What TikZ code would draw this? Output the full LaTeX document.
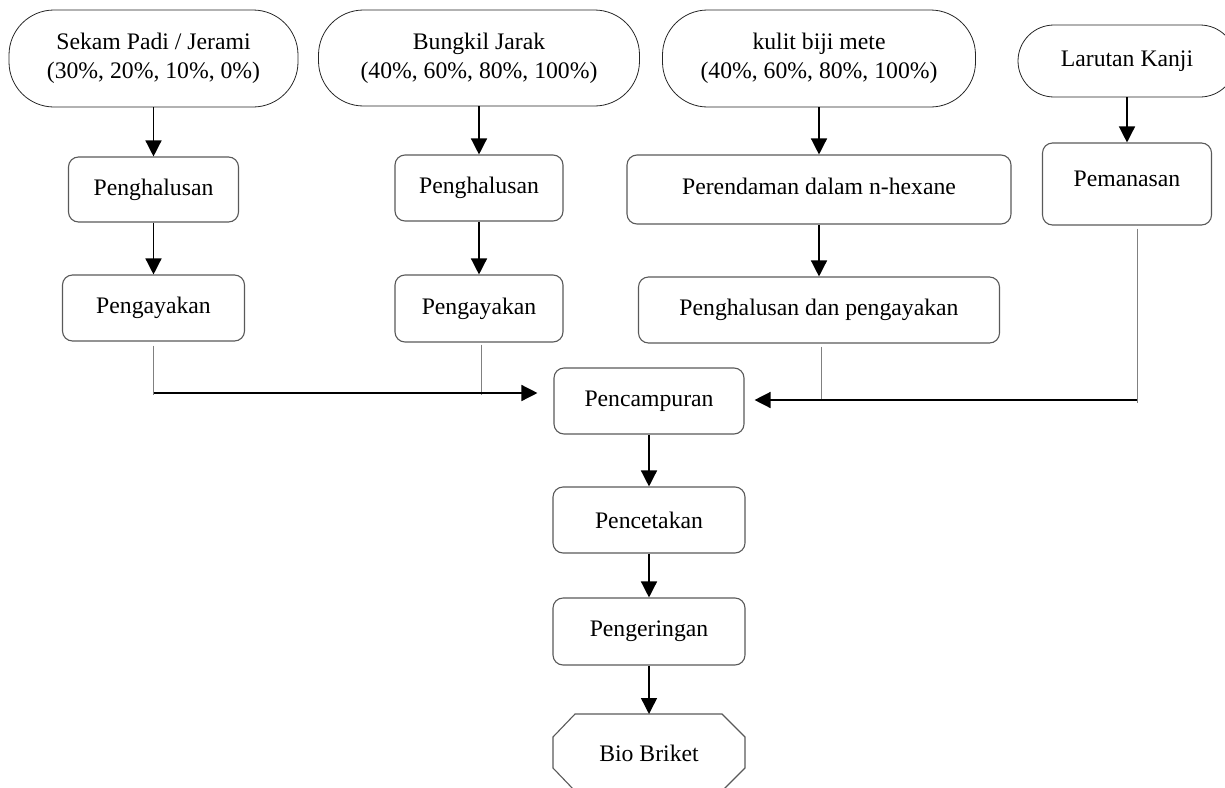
\documentclass[tikz,border=0pt]{standalone}
\usepackage{fontspec}
\setmainfont{Liberation Serif}
\usetikzlibrary{arrows.meta,calc}
\begin{document}
\begin{tikzpicture}[x=1pt,y=-1pt,
  every node/.style={font=\fontsize{23.7}{29}\selectfont},
  term/.style={draw=black!85, line width=0.8pt, rounded corners=45pt, align=center, inner sep=0pt},
  proc/.style={draw=black!65, line width=1.1pt, rounded corners=10pt, align=center, inner sep=0pt},
  octa/.style={draw=black!65, line width=1.1pt},
  arr/.style={line width=1.4pt, -{Triangle[length=16pt,width=16pt]}},
  link/.style={draw=black!50, line width=1pt}]
\useasboundingbox (0,0) rectangle (1225,787);
\clip (0,0) rectangle (1225,787);

% sources
\node[term, minimum width=289pt, minimum height=97pt] (s1) at (153.5,58.5) {Sekam Padi / Jerami\\(30\%, 20\%, 10\%, 0\%)};
\node[term, minimum width=321pt, minimum height=96pt] (s2) at (479,58) {Bungkil Jarak\\(40\%, 60\%, 80\%, 100\%)};
\node[term, minimum width=313pt, minimum height=97pt] (s3) at (819,58.5) {kulit biji mete\\(40\%, 60\%, 80\%, 100\%)};
\node[term, rounded corners=36pt, minimum width=218pt, minimum height=72pt] (s4) at (1127,61) {Larutan Kanji};

% column processes
\node[proc, minimum width=170pt, minimum height=65pt] (h1) at (153.5,189.5) {Penghalusan};
\node[proc, minimum width=182pt, minimum height=66pt] (a1) at (153.5,308) {Pengayakan};
\node[proc, minimum width=168pt, minimum height=66pt] (h2) at (479,188) {Penghalusan};
\node[proc, minimum width=168pt, minimum height=67pt] (a2) at (479,308.5) {Pengayakan};
\node[proc, minimum width=384pt, minimum height=69pt] (pr) at (819,189.5) {\raisebox{3pt}[\height][\depth]{Perendaman dalam n-hexane}};
\node[proc, minimum width=361pt, minimum height=66pt] (pdp) at (819,310) {Penghalusan dan pengayakan};
\node[proc, minimum width=169pt, minimum height=82pt] (pm) at (1127,184) {\raisebox{5pt}[\height][\depth]{Pemanasan}};

% main line
\node[proc, minimum width=190pt, minimum height=66pt] (pc) at (649,401) {Pencampuran};
\node[proc, minimum width=192pt, minimum height=66pt] (pct) at (649,520) {Pencetakan};
\node[proc, minimum width=192pt, minimum height=67pt] (pg) at (649,631.5) {Pengeringan};
\draw[octa] (575,714) -- (722,714) -- (745,737) -- (745,768) -- (722,791) -- (575,791) -- (553,768) -- (553,737) -- cycle;
\node (bb) at (649,753) {Bio Briket};
\coordinate (bbtop) at (649,714);

% vertical arrows
\draw[arr] (s1) -- (h1);
\draw[arr] (h1) -- (a1);
\draw[arr] (s2) -- (h2);
\draw[arr] (h2) -- (a2);
\draw[arr] (s3) -- (pr);
\draw[arr] (pr) -- (pdp);
\draw[arr] (s4) -- (pm);
\draw[arr] (pc) -- (pct);
\draw[arr] (pct) -- (pg);
\draw[arr] (pg) -- (bbtop);

% joins into Pencampuran
\coordinate (jl) at (153.5,393);
\coordinate (jm) at (481,395);
\coordinate (jp) at (821,400);
\coordinate (jr) at (1137,400);
\draw[link] ($(a1.south)+(0,4)$) -- ($(jl)+(0,2)$);
\draw[link] ($(a2.south)+(2,2)$) -- (jm);
\draw[arr] (jl) -- ($(jl -| pc.west)+(-16,0)$);
\draw[link] ($(pdp.south)+(2,3)$) -- (jp);
\draw[link] ($(pm.south)+(10,3)$) -- ($(jr)+(0,3)$);
\draw[arr] (jr) -- ($(jr -| pc.east)+(10,0)$);
\end{tikzpicture}
\end{document}
